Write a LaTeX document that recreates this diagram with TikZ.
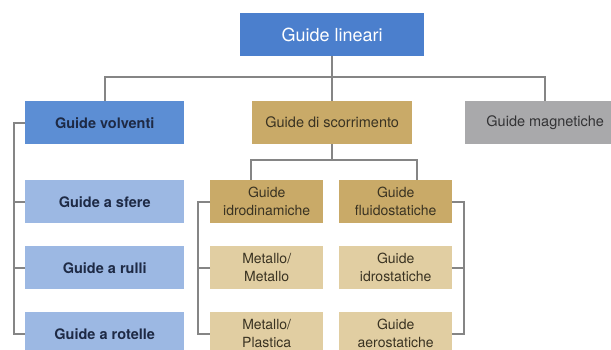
\documentclass[tikz,border=0pt]{standalone}
\usepackage{fontspec}
\setmainfont{TeX Gyre Heros}
\usetikzlibrary{calc}
\definecolor{bluedark}{HTML}{4B7FCD}
\definecolor{bluemid}{HTML}{5C8ED4}
\definecolor{bluelight}{HTML}{9CB8E3}
\definecolor{golddark}{HTML}{C9AA68}
\definecolor{goldlight}{HTML}{E1CEA2}
\definecolor{greybox}{HTML}{A9A9AB}
\definecolor{linegrey}{HTML}{858585}
\definecolor{navytext}{HTML}{1E2A45}
\definecolor{browntext}{HTML}{3A3322}
\definecolor{greytext}{HTML}{333335}
\begin{document}
\begin{tikzpicture}[x=1pt,y=-1pt,
  box/.style={anchor=north west, inner sep=0pt, minimum height=43pt, align=center},
  wide/.style={box, minimum width=159pt},
  narrow/.style={box, minimum width=113pt, text=browntext,
    font=\fontsize{14}{18}\selectfont},
  conn/.style={draw=linegrey, line width=2pt}]
\clip (0,0) rectangle (611,349);
\fill[white] (0,0) rectangle (611,349);
% top
\node[box, minimum width=184pt, fill=bluedark, text=white,
  font=\fontsize{18}{22}\selectfont] (lin) at (240,13) {Guide lineari};
% second row
\node[wide, fill=bluemid, text=navytext,
  font=\fontsize{14.5}{18}\selectfont\bfseries] (vol) at (25,101) {Guide volventi};
\node[wide, minimum width=160pt, fill=golddark, text=browntext,
  font=\fontsize{14.5}{18}\selectfont] (sco) at (252,101) {Guide di scorrimento};
\node[wide, minimum width=160pt, fill=greybox, text=greytext,
  font=\fontsize{14.5}{18}\selectfont] (mag) at (465,101) {Guide magnetiche};
% volventi children
\node[wide, fill=bluelight, text=navytext,
  font=\fontsize{14.5}{18}\selectfont\bfseries] (sfe) at (25,180) {Guide a sfere};
\node[wide, fill=bluelight, text=navytext,
  font=\fontsize{14.5}{18}\selectfont\bfseries] (rul) at (25,246) {Guide a rulli};
\node[wide, fill=bluelight, text=navytext,
  font=\fontsize{14.5}{18}\selectfont\bfseries] (rot) at (25,312) {Guide a rotelle};
% scorrimento children
\node[narrow, fill=golddark] (idr) at (210,180) {Guide\\idrodinamiche};
\node[narrow, fill=goldlight] (mm) at (210,246) {Metallo/\\Metallo};
\node[narrow, fill=goldlight] (mp) at (210,312) {Metallo/\\Plastica};
\node[narrow, fill=golddark] (flu) at (339,180) {Guide\\fluidostatiche};
\node[narrow, fill=goldlight] (idro) at (339,246) {Guide\\idrostatiche};
\node[narrow, fill=goldlight] (aer) at (339,312) {Guide\\aerostatiche};
% connectors top level
\draw[conn] (lin.south) -- ++(0,21) -| (vol.north);
\draw[conn] (lin.south) -- ++(0,21) -| (mag.north);
\draw[conn] (lin.south) -- (sco.north);
% volventi bracket
\draw[conn] (vol.west) -- ++(-11,0) |- (rot.west);
\draw[conn] (sfe.west) -- ++(-11,0);
\draw[conn] (rul.west) -- ++(-11,0);
% scorrimento split
\draw[conn] (sco.south) -- ++(0,16) -| ($(idr.north west)+(41,0)$);
\draw[conn] (sco.south) -- ++(0,16) -| ($(flu.north west)+(78,0)$);
% idrodinamiche bracket
\draw[conn] (idr.west) -- ++(-12,0) |- (mp.west);
\draw[conn] (mm.west) -- ++(-12,0);
% fluidostatiche bracket
\draw[conn] (flu.east) -- ++(12,0) |- (aer.east);
\draw[conn] (idro.east) -- ++(12,0);
\end{tikzpicture}
\end{document}
